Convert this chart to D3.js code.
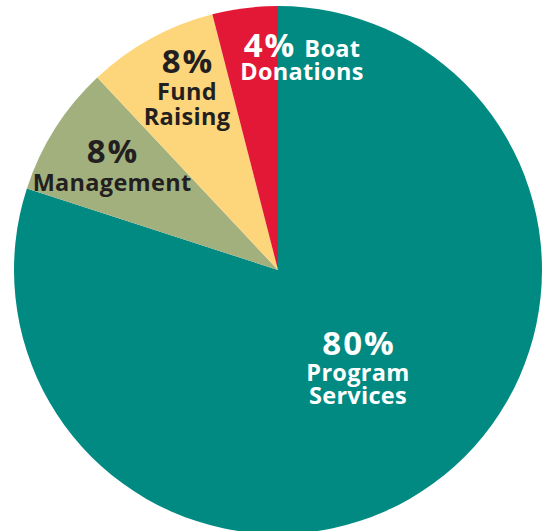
<!DOCTYPE html>
<html><head><meta charset="utf-8">
<script src="https://cdn.jsdelivr.net/npm/d3@7"></script>
<style>html,body{margin:0;padding:0;background:#fff;}svg{display:block;}</style>
</head><body>
<svg id="c" width="552" height="531"></svg>
<script>
const categories = ["Program Services", "Management", "Fund Raising", "Boat Donations"];
const values = [80, 8, 8, 4];
const colors = ["#008a82", "#a2b07e", "#fdd67c", "#e31837"];
const pctLabels = ["80%", "8%", "8%", "4%"];

const W = 552, H = 531, cx = 278, cy = 270, R = 264;
const svg = d3.select("#c");
const g = svg.append("g").attr("transform", `translate(${cx},${cy})`);

const pie = d3.pie().sort(null).value(d => d)(values);
const arc = d3.arc().innerRadius(0).outerRadius(R);

g.selectAll("path").data(pie).enter().append("path")
  .attr("d", arc)
  .attr("fill", (d, i) => colors[i]);

const font = "'Open Sans', sans-serif";
const dark = "#231f20";
const PS = 33, WS = 23.5;
// label layout (offsets from the pie centre)
const layout = [
  {dx: 80, lines: [{t: pctLabels[0], y: 85, s: PS}, {t: "Program", y: 111, s: WS}, {t: "Services", y: 134, s: WS}], fill: "#fff"},
  {dx: -166, lines: [{t: pctLabels[1], y: -107, s: PS}, {t: "Management", y: -79, s: WS}], fill: dark},
  {dx: -91, lines: [{t: pctLabels[2], y: -197, s: PS}, {t: "Fund", y: -170, s: WS}, {t: "Raising", y: -145, s: WS}], fill: dark},
  {dx: 24, lines: [{t: "Donations", y: -190, s: WS}], fill: "#fff"}
];
layout.forEach((L, i) => {
  L.lines.forEach(l => {
    g.append("text").attr("x", L.dx + (l.s === PS ? 1 : 0)).attr("y", l.y)
      .attr("text-anchor", "middle")
      .attr("font-family", font).attr("font-weight", 700)
      .attr("letter-spacing", l.s === PS ? 2 : 0.3)
      .attr("font-size", l.s).attr("fill", L.fill).text(l.t);
  });
});
// "4% Boat" line with mixed sizes
const t = g.append("text").attr("x", 24).attr("y", -213).attr("text-anchor", "middle")
  .attr("font-family", font).attr("font-weight", 700).attr("fill", "#fff");
t.append("tspan").attr("font-size", PS).attr("letter-spacing", 2).text(pctLabels[3]);
t.append("tspan").attr("font-size", WS).attr("letter-spacing", 0.3).attr("dx", 8).text("Boat");
</script>
</body></html>
